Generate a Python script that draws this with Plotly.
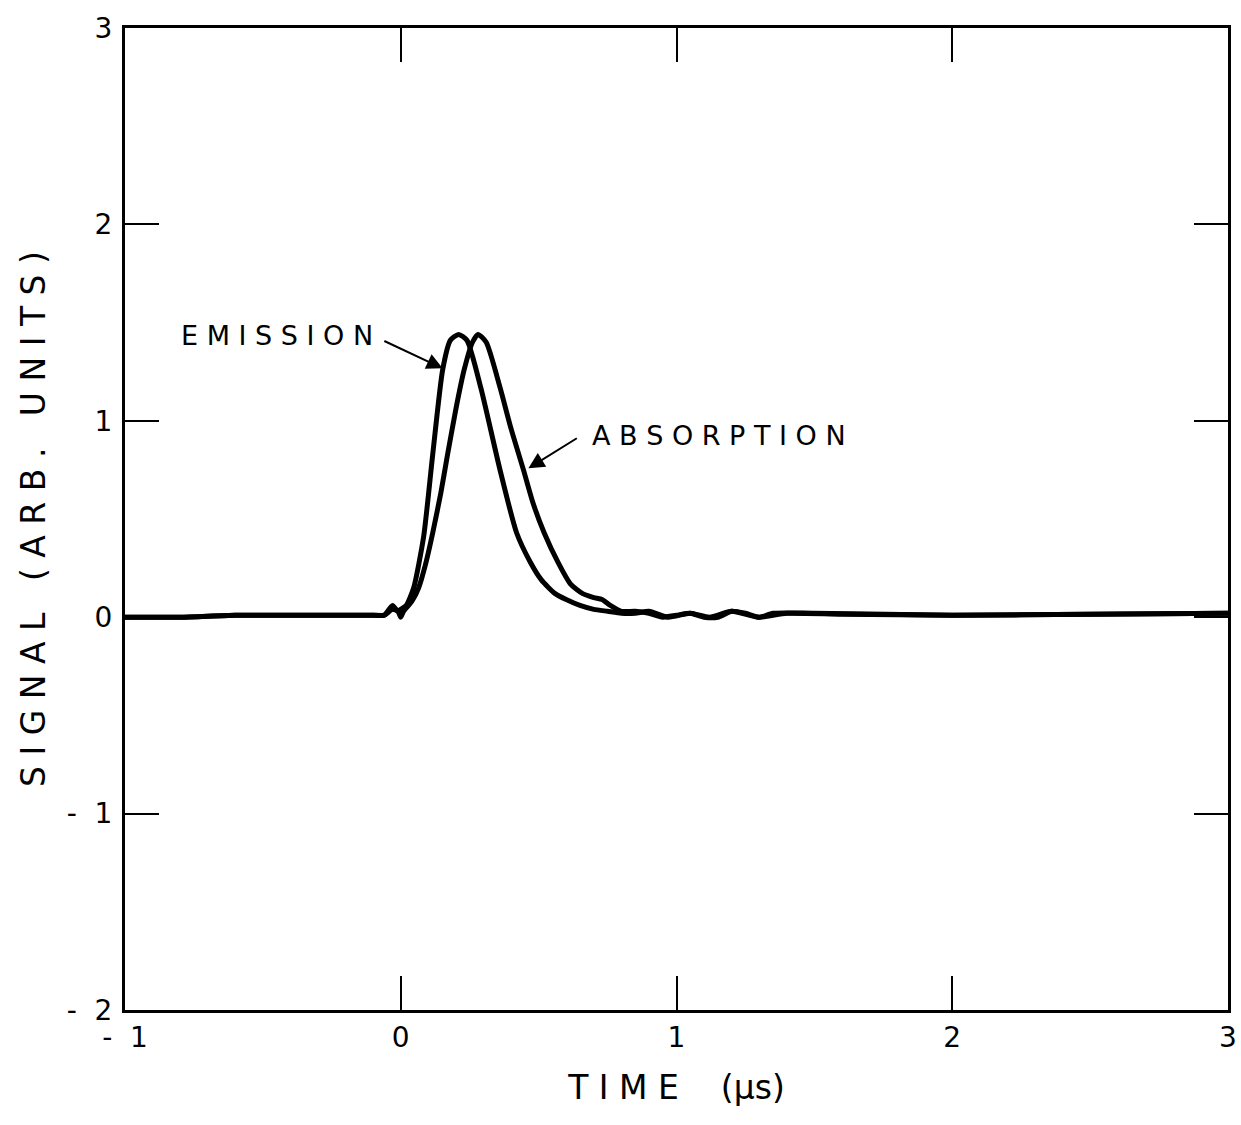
import plotly.graph_objects as go

# Emission trace (time in microseconds, signal in arbitrary units)
em_t = [-1.0, -0.8, -0.6, -0.4, -0.2, -0.1, -0.06, -0.03, -0.01, 0.0, 0.02, 0.047, 0.083, 0.116,
        0.152, 0.18, 0.21, 0.24, 0.29, 0.36, 0.42, 0.47, 0.51, 0.56, 0.60, 0.65, 0.70, 0.75,
        0.80, 0.85, 0.90, 0.97, 1.05, 1.12, 1.2, 1.3, 1.4, 1.6, 2.0, 2.5, 3.0]
em_s = [0.0, 0.0, 0.01, 0.01, 0.01, 0.01, 0.01, 0.06, 0.03, 0.04, 0.06, 0.15, 0.41, 0.83,
        1.26, 1.41, 1.44, 1.41, 1.17, 0.75, 0.43, 0.28, 0.19, 0.12, 0.09, 0.06, 0.04, 0.03,
        0.02, 0.02, 0.03, 0.0, 0.02, 0.0, 0.03, 0.0, 0.02, 0.015, 0.01, 0.015, 0.02]

# Absorption trace
ab_t = [-1.0, -0.8, -0.6, -0.4, -0.2, -0.1, -0.06, -0.03, -0.01, 0.0, 0.01, 0.04, 0.065, 0.09,
        0.116, 0.145, 0.17, 0.20, 0.23, 0.26, 0.28, 0.31, 0.36, 0.40, 0.445, 0.48, 0.52, 0.57,
        0.615, 0.66, 0.70, 0.73, 0.76, 0.80, 0.85, 0.90, 0.95, 1.0, 1.05, 1.1, 1.15, 1.2,
        1.25, 1.3, 1.35, 1.5, 2.0, 2.5, 3.0]
ab_s = [0.0, 0.0, 0.01, 0.01, 0.01, 0.01, 0.01, 0.04, 0.03, 0.0, 0.03, 0.08, 0.15, 0.27,
        0.43, 0.63, 0.83, 1.06, 1.26, 1.40, 1.44, 1.40, 1.17, 0.96, 0.75, 0.58, 0.43, 0.28,
        0.17, 0.12, 0.10, 0.09, 0.06, 0.03, 0.03, 0.02, 0.0, 0.01, 0.02, 0.0, 0.0, 0.03,
        0.02, 0.0, 0.02, 0.02, 0.01, 0.015, 0.02]

x_ticks = [-1, 0, 1, 2, 3]
x_labels = ["-  1", "0", "1", "2", "3"]
y_ticks = [-2, -1, 0, 1, 2, 3]
y_labels = ["-  2", "-  1", "0", "1", "2", "3"]

FONT = "DejaVu Sans"

fig = go.Figure()
for t, s in [(em_t, em_s), (ab_t, ab_s)]:
    fig.add_trace(go.Scatter(x=t, y=s, mode="lines",
                             line=dict(color="black", width=5, shape="spline", smoothing=0.6),
                             showlegend=False, hoverinfo="skip"))

ann_font = dict(family=FONT, size=27, color="black")
fig.add_annotation(x=-0.45, y=1.435, text="E M I S S I O N", showarrow=False, font=ann_font)
fig.add_annotation(x=1.155, y=0.926, text="A B S O R P T I O N", showarrow=False, font=ann_font)
fig.add_annotation(x=0.152, y=1.267, ax=-0.065, ay=1.41, axref="x", ayref="y",
                   text="", showarrow=True, arrowhead=2, arrowsize=1.6, arrowwidth=2,
                   arrowcolor="black", standoff=0)
fig.add_annotation(x=0.463, y=0.758, ax=0.644, ay=0.916, axref="x", ayref="y",
                   text="", showarrow=True, arrowhead=2, arrowsize=1.6, arrowwidth=2,
                   arrowcolor="black", standoff=0)

axis_common = dict(showgrid=False, zeroline=False, showline=True, linecolor="black",
                   linewidth=3, mirror="ticks", ticks="inside", ticklen=34, tickwidth=2,
                   tickcolor="black", automargin=False, ticklabeloverflow="allow",
                   tickfont=dict(family=FONT, size=28, color="black"))
fig.update_xaxes(range=[-1, 3], tickvals=x_ticks, ticktext=x_labels,
                 title=dict(text="T I M E    (\u03bcs)",
                            font=dict(family=FONT, size=33, color="black"), standoff=24),
                 **axis_common)
fig.update_yaxes(range=[-2, 3], tickvals=y_ticks, ticktext=y_labels, ticklabelstandoff=4,
                 title=dict(text="S I G N A L   ( A R B .   U N I T S )",
                            font=dict(family=FONT, size=33, color="black"), standoff=12),
                 **axis_common)

fig.update_layout(width=1241, height=1125, paper_bgcolor="white", plot_bgcolor="white",
                  margin=dict(l=125, r=13, t=28, b=115))
fig.write_html("out.html", config={"displayModeBar": False},
               post_script="document.body.style.margin='0';document.body.style.overflow='hidden';")
